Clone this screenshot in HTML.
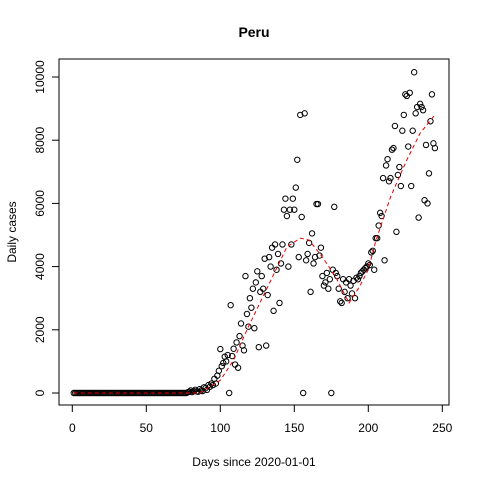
<!DOCTYPE html>
<html><head><meta charset="utf-8"><style>
html,body{margin:0;padding:0;background:#fff;}
svg{display:block;font-family:"Liberation Sans",Arial,sans-serif;}
</style></head><body>
<svg id="chart" width="480" height="480">
<rect x="0" y="0" width="480" height="480" fill="#fff"/>
<text x="254" y="37" text-anchor="middle" font-size="14" font-weight="bold">Peru</text>
<rect x="59" y="59" width="390" height="346" fill="none" stroke="#000" stroke-width="1"/>
<text x="254" y="466" text-anchor="middle" font-size="12">Days since 2020-01-01</text>
<text transform="translate(16,232) rotate(-90)" text-anchor="middle" font-size="12">Daily cases</text>
<g id="axes"></g>
<g id="points"></g>
<g id="smooth"></g>
</svg>
<script>
const xTicks=[0,50,100,150,200,250];
const yTicks=[0,2000,4000,6000,8000,10000];
const cases=[
0,0,0,0,0,0,0,0,0,0,0,0,0,0,0,0,0,0,0,0,0,0,0,0,0,
0,0,0,0,0,0,0,0,0,0,0,0,0,0,0,0,0,0,0,0,0,0,0,0,0,
0,0,0,0,0,0,0,0,0,0,0,0,0,0,0,0,0,0,0,0,0,0,0,0,0,
0,0,20,40,80,30,60,100,50,40,
120,80,60,180,150,100,250,200,300,250,
450,300,550,700,1390,850,950,1150,1000,1200,
0,2780,1170,1400,900,1600,800,1800,2200,1500,
1350,3700,2500,2100,3000,2700,3300,2050,3500,3850,
1450,3200,3700,3300,4250,1500,3100,4300,4000,4600,
2600,4700,3900,4400,2850,4100,4700,5800,6150,5600,
4000,5800,4700,6150,5800,6500,7380,4300,8800,5570,
0,8850,4200,4400,4750,3200,5050,4100,4300,5980,
5980,4350,4600,3700,3400,3500,3800,3300,3600,0,
3900,5890,3800,3700,3300,2900,2850,3600,3200,3500,
3000,3600,3400,3150,3550,3000,3650,3600,3700,3800,
3850,3900,3950,4000,4100,4050,4450,4500,3900,4900,
4900,5300,5700,5600,6800,4200,7200,7400,6700,6800,
7700,7750,8450,5100,6900,7150,6550,8300,8800,9450,
9400,7800,9500,6550,8300,10150,8850,9050,5550,9150,9050,8950,6100,7850,6000,6950,8600,9450,7900,7750
];
const smoothDays=[1,75,86,100,109,118,131,145,154,160,169,178,187,194,200,205,215,226,235,245];
const smoothVals=[0,0,0,400,1040,2000,3260,4620,4900,4840,4300,3670,2850,3360,3900,4800,6200,7370,8220,8800];

const NS="http://www.w3.org/2000/svg";
function xs(d){return 72.3+(d-0)*(442.3-72.3)/250;}
function ys(v){return 393-v*(393-77)/10000;}
function mk(tag,attrs,parent){const e=document.createElementNS(NS,tag);for(const k in attrs)e.setAttribute(k,attrs[k]);parent.appendChild(e);return e;}
const axes=document.getElementById('axes');
let l=mk('line',{x1:xs(0),x2:xs(250),y1:405,y2:405,stroke:'#000'},axes);


l=mk('line',{x1:59,x2:59,y1:ys(0),y2:ys(10000),stroke:'#000'},axes);


xTicks.forEach(t=>{
  const tk=mk('line',{x1:xs(t),x2:xs(t),y1:405,y2:412,stroke:'#000'},axes);
  
  
  const tx=mk('text',{x:xs(t),y:432,'text-anchor':'middle','font-size':'12'},axes);
  tx.textContent=t;
  
  
});
yTicks.forEach(t=>{
  const tk=mk('line',{x1:52,x2:59,y1:ys(t),y2:ys(t),stroke:'#000'},axes);
  
  
  const tx=mk('text',{transform:`translate(44,${ys(t)}) rotate(-90)`,'text-anchor':'middle','font-size':'12'},axes);
  tx.textContent=t;
  
  
});
const pts=document.getElementById('points');
cases.forEach((v,i)=>{
  const c=mk('circle',{cx:xs(i+1),cy:ys(v),r:2.7,fill:'none',stroke:'#000','stroke-width':1},pts);
  
  
});
const sm=document.getElementById('smooth');
const p=mk('polyline',{points:smoothDays.map((d,i)=>xs(d)+','+ys(smoothVals[i])).join(' '),fill:'none',stroke:'#e00','stroke-width':1,'stroke-dasharray':'4,3'},sm);


</script>
</body></html>
